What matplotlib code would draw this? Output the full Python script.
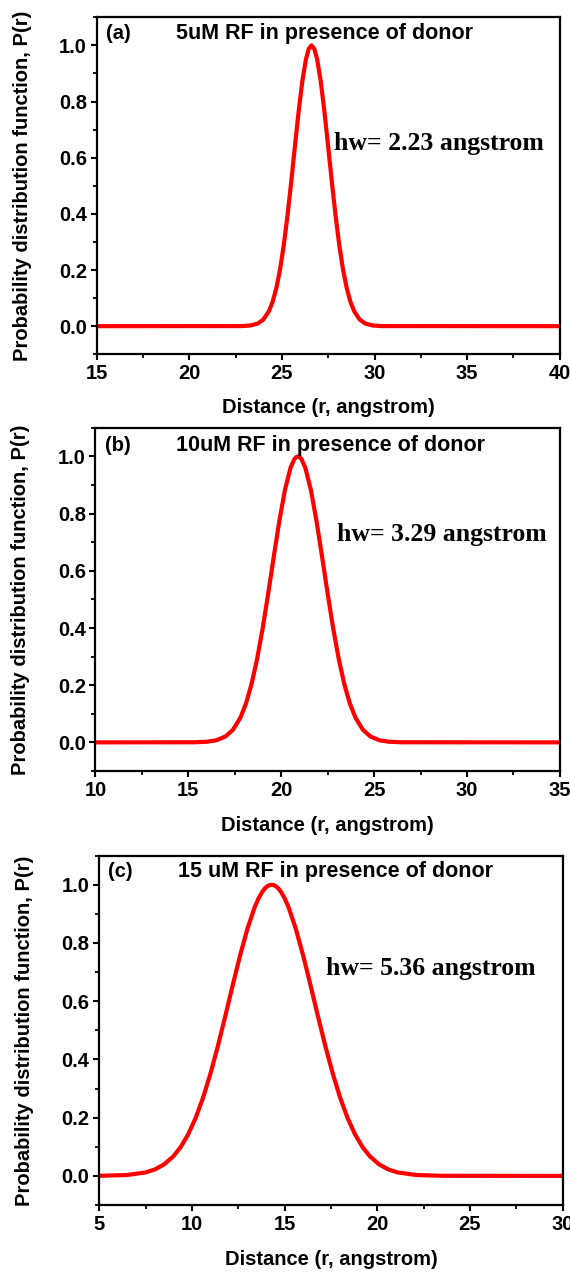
import matplotlib
matplotlib.use("Agg")
import matplotlib.pyplot as plt
from matplotlib.ticker import MultipleLocator, FormatStrFormatter

# values (distance in angstrom, normalised P(r))
r_a = [15.0, 22.8, 23.3, 23.7, 24.0, 24.3, 24.5, 24.7, 24.9, 25.1, 25.3, 25.5, 25.7,
       25.9, 26.1, 26.3, 26.45, 26.6, 26.75, 26.9, 27.1, 27.3, 27.5, 27.7, 27.9,
       28.1, 28.3, 28.5, 28.7, 28.9, 29.2, 29.5, 29.9, 30.4, 40.0]
p_a = [0.0, 0.0003, 0.0024, 0.0095, 0.0236, 0.0533, 0.0869, 0.1353, 0.2017, 0.2875,
       0.3921, 0.5116, 0.6385, 0.7622, 0.8707, 0.9514, 0.9876, 1.0, 0.9876, 0.9514,
       0.8707, 0.7622, 0.6385, 0.5116, 0.3921, 0.2875, 0.2017, 0.1353, 0.0869,
       0.0533, 0.0236, 0.0095, 0.0024, 0.0003, 0.0]

r_b = [10.0, 15.3, 16.0, 16.5, 17.0, 17.4, 17.8, 18.1, 18.4, 18.7, 19.0, 19.3, 19.6,
       19.9, 20.2, 20.5, 20.7, 20.8, 20.9, 21.0, 21.1, 21.3, 21.6, 21.9, 22.2, 22.5,
       22.8, 23.1, 23.4, 23.7, 24.0, 24.4, 24.8, 25.3, 25.8, 26.5, 35.0]
p_b = [0.0, 0.0003, 0.0022, 0.0072, 0.0207, 0.0439, 0.0861, 0.1353, 0.2031, 0.2909,
       0.3982, 0.5205, 0.6498, 0.7748, 0.8825, 0.960, 0.9899, 0.9975, 1.0, 0.9975,
       0.9899, 0.960, 0.8825, 0.7748, 0.6498, 0.5205, 0.3982, 0.2909, 0.2031,
       0.1353, 0.0861, 0.0439, 0.0207, 0.0072, 0.0022, 0.0003, 0.0]

r_c = [5.0, 6.5, 7.5, 8.0, 8.5, 9.0, 9.4, 9.8, 10.2, 10.6, 11.0, 11.4, 11.8, 12.2,
       12.6, 13.0, 13.4, 13.6, 13.8, 13.95, 14.1, 14.2, 14.3, 14.4, 14.5, 14.65, 14.8,
       15.0, 15.2, 15.6, 16.0, 16.4, 16.8, 17.2, 17.6, 18.0, 18.4, 18.8, 19.2, 19.6,
       20.1, 20.6, 21.1, 22.1, 23.5, 30.0]
p_c = [0.0002, 0.0029, 0.0117, 0.0220, 0.0393, 0.0671, 0.0993, 0.1426, 0.1985,
       0.2680, 0.3509, 0.4453, 0.5482, 0.6544, 0.7573, 0.8500, 0.9251, 0.9540,
       0.9762, 0.9885, 0.9962, 0.9990, 1.0, 0.9990, 0.9962, 0.9885, 0.9762, 0.9540,
       0.9251, 0.8500, 0.7573, 0.6544, 0.5482, 0.4453, 0.3509, 0.2680, 0.1985,
       0.1426, 0.0993, 0.0671, 0.0393, 0.0220, 0.0117, 0.0029, 0.0002, 0.0]

tags = ["(a)", "(b)", "(c)"]
titles = ["5uM RF in presence of donor",
          "10uM RF in presence of donor",
          "15 uM RF in presence of donor"]
hw_labels = ["hw= 2.23 angstrom", "hw= 3.29 angstrom", "hw= 5.36 angstrom"]
x_limits = [(15, 40), (10, 35), (5, 30)]

plt.rcParams['font.family'] = ['Liberation Sans', 'DejaVu Sans']
plt.rcParams['font.weight'] = 'bold'

fig = plt.figure(figsize=(5.7, 12.72), dpi=100)

boxes = [[0.1695, 0.7215, 0.8126, 0.2649],
         [0.1675, 0.3939, 0.8146, 0.2697],
         [0.1740, 0.0527, 0.8132, 0.2746]]
# where the "hw=" note and the texts sit, in axes fractions
hw_pos = [(0.512, 0.626), (0.520, 0.688), (0.489, 0.678)]
title_x = [0.171, 0.174, 0.169]
tag_y = [0.9525, 0.950, 0.954]

curves = [(r_a, p_a), (r_b, p_b), (r_c, p_c)]

for i, (r, p) in enumerate(curves):
    ax = fig.add_axes(boxes[i])
    ax.plot(r, p, color='#ff0000', linewidth=3.0, solid_joinstyle='round')

    ax.set_xlim(*x_limits[i])
    ax.set_ylim(-0.1, 1.1)
    ax.xaxis.set_major_locator(MultipleLocator(5))
    ax.xaxis.set_minor_locator(MultipleLocator(2.5))
    ax.yaxis.set_major_locator(MultipleLocator(0.2))
    ax.yaxis.set_minor_locator(MultipleLocator(0.1))
    ax.yaxis.set_major_formatter(FormatStrFormatter('%.1f'))

    for side in ax.spines.values():
        side.set_linewidth(1.6)
    ax.tick_params(which='major', direction='out', length=4, width=1.5,
                   labelsize=14.5, pad=3, top=False, right=False)
    ax.tick_params(which='minor', direction='out', length=3, width=1.3,
                   top=False, right=False)
    for lab in ax.get_xticklabels() + ax.get_yticklabels():
        lab.set_fontweight('bold')

    ax.set_xlabel('Distance (r, angstrom)', fontsize=14.5, fontweight='bold')
    ax.set_ylabel('Probability distribution function, P(r)', fontsize=14.5,
                  fontweight='bold')
    ax.xaxis.set_label_coords(0.5, -0.13)
    ax.yaxis.set_label_coords(-0.14, 0.5)

    ax.text(0.02, tag_y[i], tags[i], transform=ax.transAxes, ha='left',
            va='center', fontsize=14.5, fontweight='bold')
    ax.text(title_x[i], tag_y[i], titles[i], transform=ax.transAxes, ha='left',
            va='center', fontsize=15.5, fontweight='bold')
    ax.text(hw_pos[i][0], hw_pos[i][1], hw_labels[i], transform=ax.transAxes,
            ha='left', va='center', fontsize=18.5, fontweight='bold',
            family=['Liberation Serif', 'DejaVu Serif'])

fig.savefig('out.png', dpi=100)
